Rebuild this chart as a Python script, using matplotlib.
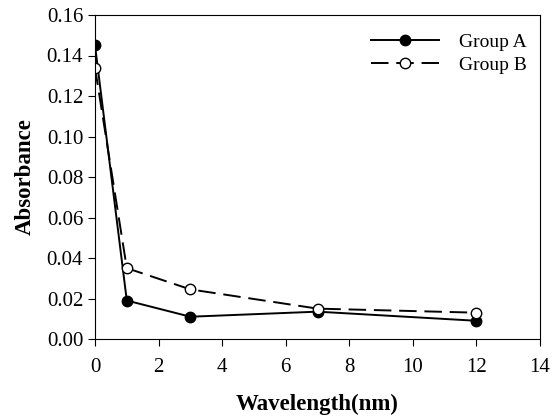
import matplotlib
matplotlib.use('Agg')
import matplotlib.pyplot as plt

plt.rcParams.update({
    'font.family': 'serif',
    'font.serif': ['Liberation Serif', 'DejaVu Serif'],
    'font.size': 12,
})

x = [0, 1, 3, 7, 12]
group_a = [0.145, 0.019, 0.011, 0.0135, 0.009]
group_b = [0.134, 0.035, 0.0245, 0.015, 0.013]

fig = plt.figure(figsize=(5.6, 4.17), dpi=100)
ax = fig.add_axes([95/560, 1 - 339/417, 445/560, 324/417])

ax.plot(x, group_a, color='black', lw=1.4, marker='o', ms=7.5,
        mfc='black', mec='black', label='Group A')
ax.plot(x, group_b, color='black', lw=1.4, ls=(0, (9, 4)), marker='o', ms=7.5,
        mfc='white', mec='black', label='Group B')

ax.set_xlim(0, 14)
ax.set_ylim(0, 0.16)
ax.set_xticks(range(0, 15, 2))
ax.set_yticks([i * 0.02 for i in range(9)])
ax.set_yticklabels([f'{i * 0.02:.2f}' for i in range(9)])
ax.tick_params(direction='out', length=5, labelsize=15)
ax.tick_params(axis='x', pad=9)

ax.set_xlabel('Wavelength(nm)', fontsize=16.5, fontweight='bold', labelpad=12)
ax.set_ylabel('Absorbance', fontsize=16.5, fontweight='bold', labelpad=8)

ax.legend(loc='upper right', frameon=False, fontsize=14, handlelength=3.5,
          handletextpad=1.0, borderaxespad=0.3, labelspacing=0.25,
          bbox_to_anchor=(1.0, 0.985))

fig.savefig('out.png', dpi=100)
